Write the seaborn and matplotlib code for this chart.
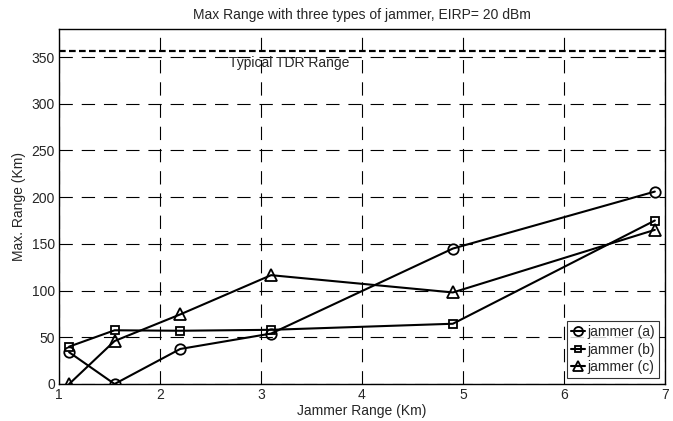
import matplotlib
matplotlib.use("Agg")
import matplotlib.pyplot as plt
import seaborn as sns
import pandas as pd

x_vals = [1.1, 1.55, 2.2, 3.1, 4.9, 6.9]
jammer_a = [34, 0, 37.5, 54, 145, 206]
jammer_b = [40, 57.5, 57, 58, 64.5, 175]
jammer_c = [0, 46, 74.5, 116.5, 98, 165]
series_names = ["jammer (a)", "jammer (b)", "jammer (c)"]
tdr_range = 357

sns.set_theme(style="white")
plt.rcParams['font.family'] = ['Liberation Sans', 'DejaVu Sans']

rows = []
for name, vals in zip(series_names, [jammer_a, jammer_b, jammer_c]):
    for xv, yv in zip(x_vals, vals):
        rows.append({"x": xv, "y": yv, "series": name})
df = pd.DataFrame(rows)

fig = plt.figure(figsize=(6.73, 4.21), dpi=100)
ax = fig.add_axes([0.0877, 0.0879, 0.9003, 0.8431])

sns.lineplot(data=df, x="x", y="y", hue="series", style="series",
             palette=["black"] * 3, markers=["o", "s", "^"], dashes=False,
             markersize=7.5, markerfacecolor="none", markeredgecolor="black",
             markeredgewidth=1.3, linewidth=1.5, ax=ax, sort=False)
sizes = {"s": 6.0, "o": 7.5, "^": 8.0}
for ln in ax.lines:
    m = ln.get_marker()
    if m in sizes:
        ln.set_markersize(sizes[m])

ax.axhline(tdr_range, color="black", linestyle=(0, (3, 1.5)), linewidth=1.6)
ax.text(3.28, 344, "Typical TDR Range", ha="center", va="center", fontsize=10)

ax.set_xlim(1, 7)
ax.set_ylim(0, 380)
ax.set_xticks([1, 2, 3, 4, 5, 6, 7])
ax.set_yticks([0, 50, 100, 150, 200, 250, 300, 350])
ax.grid(True, color="black", linestyle=(0, (12, 8)), linewidth=0.8)
ax.tick_params(direction="in", length=4, labelsize=10, color="black", pad=3)
for s in ax.spines.values():
    s.set_color("black")
    s.set_linewidth(1.0)
ax.set_xlabel("Jammer Range (Km)", fontsize=10, labelpad=1)
ax.set_ylabel("Max. Range (Km)", fontsize=10, labelpad=4)
ax.set_title("Max Range with three types of jammer, EIRP= 20 dBm", fontsize=10, pad=7)

leg = ax.legend(loc="lower right", fontsize=10, frameon=True, fancybox=False,
                edgecolor="black", handlelength=1.0, handletextpad=0.2,
                borderpad=0.3, labelspacing=0.25, borderaxespad=0.4)
leg.get_frame().set_linewidth(0.8)
for h in leg.legend_handles:
    h.set_markerfacecolor("none")
    h.set_markeredgecolor("black")
    m = h.get_marker()
    if m in sizes:
        h.set_markersize(sizes[m] - 1)

fig.savefig("out.png", dpi=100)
